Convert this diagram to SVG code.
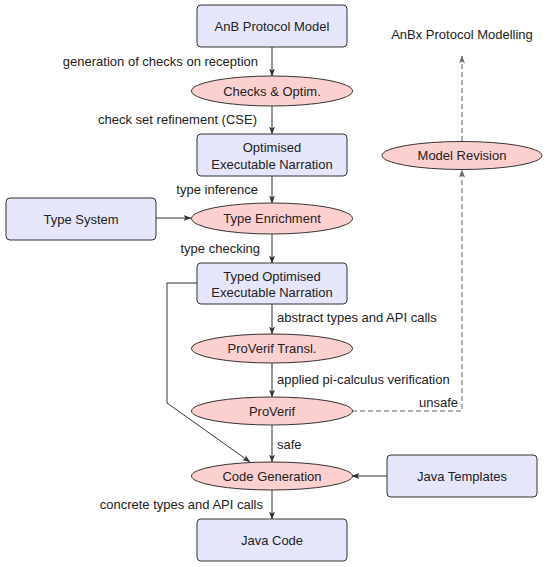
<svg xmlns="http://www.w3.org/2000/svg" width="550" height="567" viewBox="0 0 550 567">
<style>
text{font-family:"Liberation Sans",Arial,sans-serif;font-size:13px;fill:#222;dominant-baseline:central}
.box{fill:#e6e6fb;stroke:#333;stroke-width:1}
.ell{fill:#fdd0d0;stroke:#333;stroke-width:1}
.c{text-anchor:middle}
.r{text-anchor:end}
.ln{fill:none;stroke:#333;stroke-width:1}
.d{stroke:#666;stroke-dasharray:5,3}
</style>
<defs>
<marker id="a" viewBox="0 0 8 8" refX="7.5" refY="4" markerWidth="8" markerHeight="8" markerUnits="userSpaceOnUse" orient="auto">
<path d="M0,1 L8,4 L0,7 L2,4 Z" fill="#333"/>
</marker>
<marker id="ag" viewBox="0 0 8 8" refX="7.5" refY="4" markerWidth="8" markerHeight="8" markerUnits="userSpaceOnUse" orient="auto">
<path d="M0,1 L8,4 L0,7 L2,4 Z" fill="#666"/>
</marker>
</defs>
<g id="connectors">
<path class="ln" d="M272,47 V76" marker-end="url(#a)"/>
<path class="ln" d="M272,106 V134" marker-end="url(#a)"/>
<path class="ln" d="M272,176 V203" marker-end="url(#a)"/>
<path class="ln" d="M272,234 V263" marker-end="url(#a)"/>
<path class="ln" d="M272,304 V334" marker-end="url(#a)"/>
<path class="ln" d="M272,363 V397" marker-end="url(#a)"/>
<path class="ln" d="M272,425 V462" marker-end="url(#a)"/>
<path class="ln" d="M272,490 V519" marker-end="url(#a)"/>
<path class="ln" d="M156,218 H191" marker-end="url(#a)"/>
<path class="ln" d="M387,476 H352" marker-end="url(#a)"/>
<path class="ln" d="M197,283 H167 V403 L250,462" marker-end="url(#a)"/>
<path class="ln d" d="M352,411 H462 V170" marker-end="url(#ag)"/>
<path class="ln d" d="M462,141 V56" marker-end="url(#ag)"/>
<text class="r" x="258" y="61">generation of checks on reception</text>
<text class="r" x="257" y="119">check set refinement (CSE)</text>
<text class="r" x="258" y="189">type inference</text>
<text class="r" x="260" y="248">type checking</text>
<text x="277" y="317">abstract types and API calls</text>
<text x="277" y="379">applied pi-calculus verification</text>
<text x="277" y="444">safe</text>
<text class="r" x="458" y="402">unsafe</text>
<text class="r" x="263" y="504">concrete types and API calls</text>
</g>
<g id="anb"><rect class="box" x="197" y="5" width="150" height="42" rx="4"/><text class="c" x="272" y="26">AnB Protocol Model</text></g>
<g id="checks"><ellipse class="ell" cx="272" cy="91" rx="80.5" ry="15"/><text class="c" x="272" y="91">Checks &amp; Optim.</text></g>
<g id="oen"><rect class="box" x="197" y="134" width="150" height="42" rx="4"/><text class="c" x="272" y="147">Optimised</text><text class="c" x="272" y="164">Executable Narration</text></g>
<g id="typesys"><rect class="box" x="6" y="198" width="150" height="42" rx="4"/><text class="c" x="81" y="219">Type System</text></g>
<g id="enrich"><ellipse class="ell" cx="272" cy="218.5" rx="80.5" ry="15.5"/><text class="c" x="272" y="218.5">Type Enrichment</text></g>
<g id="toen"><rect class="box" x="197" y="263" width="150" height="41" rx="4"/><text class="c" x="272" y="276">Typed Optimised</text><text class="c" x="272" y="292">Executable Narration</text></g>
<g id="pvt"><ellipse class="ell" cx="272" cy="348.5" rx="80.5" ry="14.5"/><text class="c" x="272" y="348.5">ProVerif Transl.</text></g>
<g id="pv"><ellipse class="ell" cx="272" cy="411" rx="80.5" ry="14"/><text class="c" x="272" y="411">ProVerif</text></g>
<g id="codegen"><ellipse class="ell" cx="272" cy="476" rx="80.5" ry="14"/><text class="c" x="272" y="476">Code Generation</text></g>
<g id="jt"><rect class="box" x="387" y="455" width="150" height="42" rx="4"/><text class="c" x="462" y="476">Java Templates</text></g>
<g id="jc"><rect class="box" x="197" y="519" width="150" height="42" rx="4"/><text class="c" x="272" y="540">Java Code</text></g>
<g id="mr"><ellipse class="ell" cx="462" cy="155.5" rx="80" ry="14"/><text class="c" x="462" y="155.5">Model Revision</text></g>
<g id="anbx"><text class="c" x="462" y="34">AnBx Protocol Modelling</text></g>
</svg>
